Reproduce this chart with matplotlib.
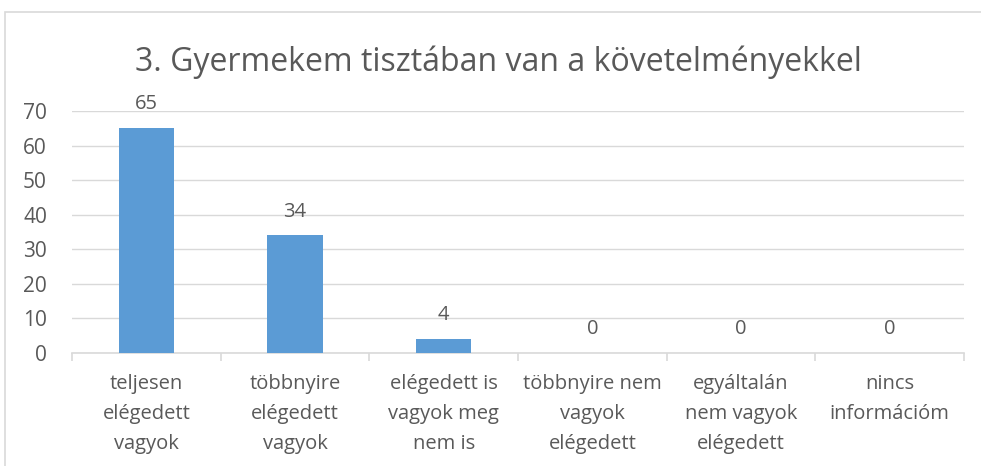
import matplotlib.pyplot as plt
from matplotlib.patches import Rectangle

#------------------------------------------------------------------------------
# Data

categories = ["teljesen\nelégedett\nvagyok", "többnyire\nelégedett\nvagyok",
              "elégedett is\nvagyok meg\nnem is", "többnyire nem\nvagyok\nelégedett",
              "egyáltalán\nnem vagyok\nelégedett", "nincs\ninformációm"]
values = [65, 34, 4, 0, 0, 0]
yticks = [0, 10, 20, 30, 40, 50, 60, 70]
title = "3. Gyermekem tisztában van a követelményekkel"

TEXT = "#595959"
BAR = "#5B9BD5"
GRID = "#D9D9D9"

#------------------------------------------------------------------------------

def main():
    plt.rcParams['font.family'] = ['Open Sans', 'DejaVu Sans']
    fig = plt.figure(figsize=(9.81, 4.66), dpi=100)

    # chart frame (cut off on the right and bottom)
    fig.patches.append(Rectangle((5 / 981, -0.1), 1.2, 1 - 12 / 466 + 0.1,
                                 transform=fig.transFigure, fill=False,
                                 edgecolor=GRID, linewidth=1.2))

    ax = fig.add_axes([72 / 981, 1 - 353 / 466, (964 - 72) / 981, (353 - 111) / 466])
    x = list(range(len(values)))
    ax.bar(x, values, width=0.37, color=BAR, zorder=3)

    for xi, v in zip(x, values):
        ax.text(xi, v + 4, str(v), ha='center', va='bottom', fontsize=14.5, color=TEXT)

    ax.set_xlim(-0.5, len(values) - 0.5)
    ax.set_ylim(0, 70)
    ax.set_yticks(yticks)
    ax.yaxis.grid(True, color=GRID, linewidth=1)
    ax.set_axisbelow(True)

    for s in ['top', 'right', 'left']:
        ax.spines[s].set_visible(False)
    ax.spines['bottom'].set_color(GRID)
    ax.spines['bottom'].set_linewidth(1.2)

    ax.set_xticks([i + 0.5 for i in range(-1, len(values))], minor=False)
    ax.set_xticklabels([])
    ax.tick_params(axis='x', length=6, color=GRID, width=1.2)
    ax.set_xticks(x, minor=True)
    ax.set_xticklabels(categories, minor=True, fontsize=14.5, color=TEXT, linespacing=1.66)
    ax.tick_params(axis='x', which='minor', length=0, pad=15)
    ax.tick_params(axis='y', length=0, labelsize=15, labelcolor=TEXT, pad=18)

    fig.text(498 / 981, 1 - 62 / 466, title, ha='center', va='center', fontsize=23, color=TEXT)

    fig.savefig("out.png", dpi=100)

#------------------------------------------------------------------------------

if __name__ == "__main__":
    main()
